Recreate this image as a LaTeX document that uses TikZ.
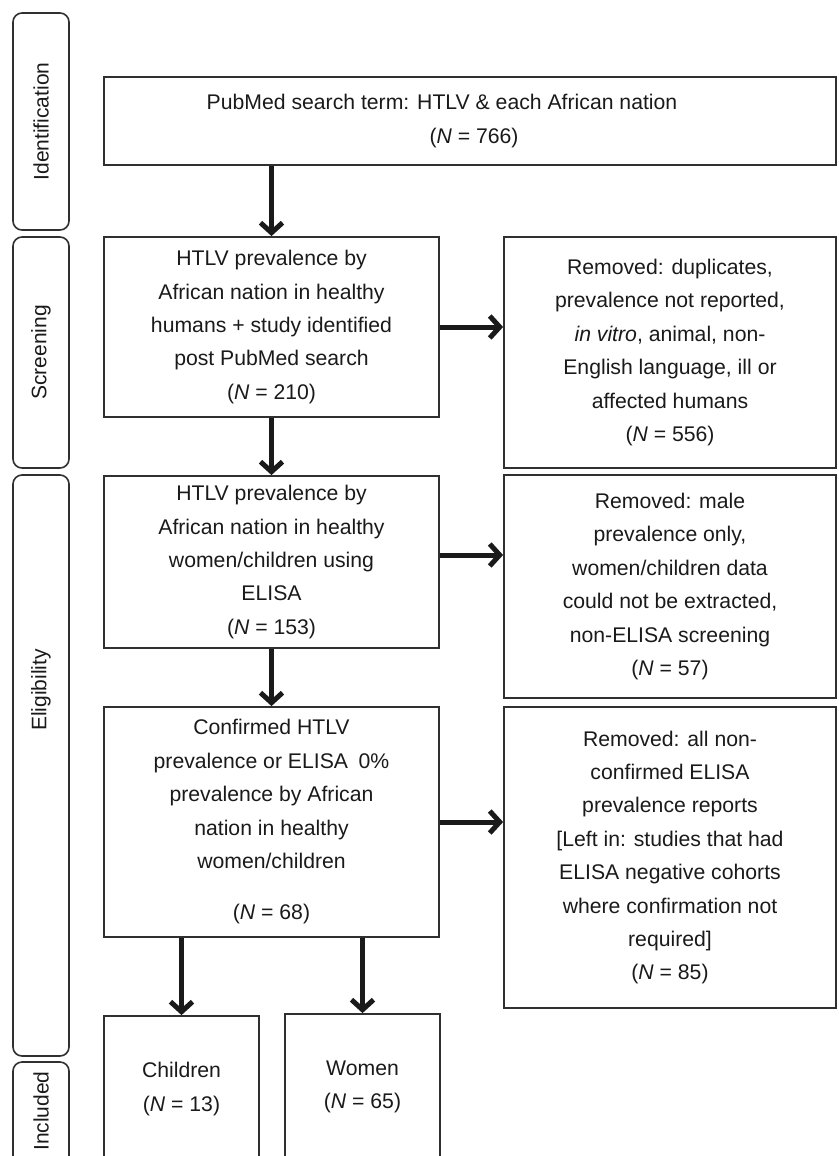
\documentclass[tikz,border=0pt]{standalone}
\usepackage{fontspec}
\setmainfont{Liberation Sans}
\usetikzlibrary{arrows.meta}
\definecolor{ln}{HTML}{303030}
\definecolor{tx}{HTML}{1A1A1A}
\begin{document}
\begin{tikzpicture}[x=1pt,y=-1pt,
  box/.style={draw=ln,line width=1.8pt,rectangle,align=center,inner sep=0pt,
    font=\fontsize{21.2}{33.4}\selectfont,text=tx},
  side/.style={draw=ln,line width=1.6pt,rounded corners=9pt,inner sep=0pt,
    font=\fontsize{21}{24}\selectfont,text=tx,rotate=90,minimum height=56pt},
  sidetext/.style={font=\fontsize{21}{24}\selectfont,text=tx,rotate=90,inner sep=0pt},
  arr/.style={draw=tx,line width=5pt,-{Straight Barb[length=10pt,width=22pt]}}
]
\useasboundingbox (0,0) rectangle (838,1156);
\clip (0,0) rectangle (838,1156);
\fill[white] (0,0) rectangle (838,1156);

% stage labels
\node[side,minimum width=217pt] (s1) at (41,121.5) {Identification};
\node[side,minimum width=231pt] (s2) at (41,352.5) {Screening};
\node[side,minimum width=581pt] (s3) at (41,765.5) {};
\node[sidetext] (s3t) at (41,690) {Eligibility};
\node[side,minimum width=200pt] (s4) at (41,1162) {};
\node[sidetext] (s4t) at (41,1111) {Included};

% main boxes
\node[box,minimum width=732pt,minimum height=88pt] (b1) at (470,121)
  {PubMed search term: HTLV \& each African nation\hspace*{56pt}\\
   \hspace*{8pt}(\textit{N} = 766)};
\node[box,minimum width=335pt,minimum height=180pt] (b2) at (271.5,327)
  {HTLV prevalence by\\African nation in healthy\\humans + study identified\\post PubMed search\\(\textit{N} = 210)};
\node[box,minimum width=332pt,minimum height=231pt] (r1) at (670,352.5)
  {Removed: duplicates,\\prevalence not reported,\\\textit{in vitro}, animal, non-\\English language, ill or\\affected humans\\(\textit{N} = 556)};
\node[box,minimum width=335pt,minimum height=172pt] (b3) at (271.5,562)
  {HTLV prevalence by\\African nation in healthy\\women/children using\\ELISA\\(\textit{N} = 153)};
\node[box,minimum width=332pt,minimum height=223pt] (r2) at (670,586.5)
  {Removed: male\\prevalence only,\\women/children data\\could not be extracted,\\non-ELISA screening\\(\textit{N} = 57)};
\node[box,minimum width=335pt,minimum height=230pt] (b4) at (271.5,822)
  {Confirmed HTLV\\prevalence or ELISA\enspace 0\%\\prevalence by African\\nation in healthy\\women/children\\[18pt](\textit{N} = 68)};
\node[box,minimum width=332pt,minimum height=301pt] (r3) at (670,857.5)
  {Removed: all non-\\confirmed ELISA\\prevalence reports\\{[}Left in: studies that had\\ELISA negative cohorts\\where confirmation not\\required]\\(\textit{N} = 85)};
\node[box,minimum width=155pt,minimum height=146pt] (c) at (181.5,1089)
  {Children\\(\textit{N} = 13)};
\node[box,minimum width=155pt,minimum height=146pt] (w) at (362.5,1087)
  {Women\\(\textit{N} = 65)};

% connectors
\draw[arr] (b1.south -| b2.north) -- (b2.north);
\draw[arr] (b2.east) -- (b2.east -| r1.west);
\draw[arr] (b2.south) -- (b3.north);
\draw[arr] ([yshift=7pt]b3.east) -- ([yshift=7pt]b3.east -| r2.west);
\draw[arr] (b3.south) -- (b4.north);
\draw[arr] (b4.east) -- (b4.east -| r3.west);
\draw[arr] (b4.south -| c.north) -- (c.north);
\draw[arr] (b4.south -| w.north) -- (w.north);
\end{tikzpicture}
\end{document}
